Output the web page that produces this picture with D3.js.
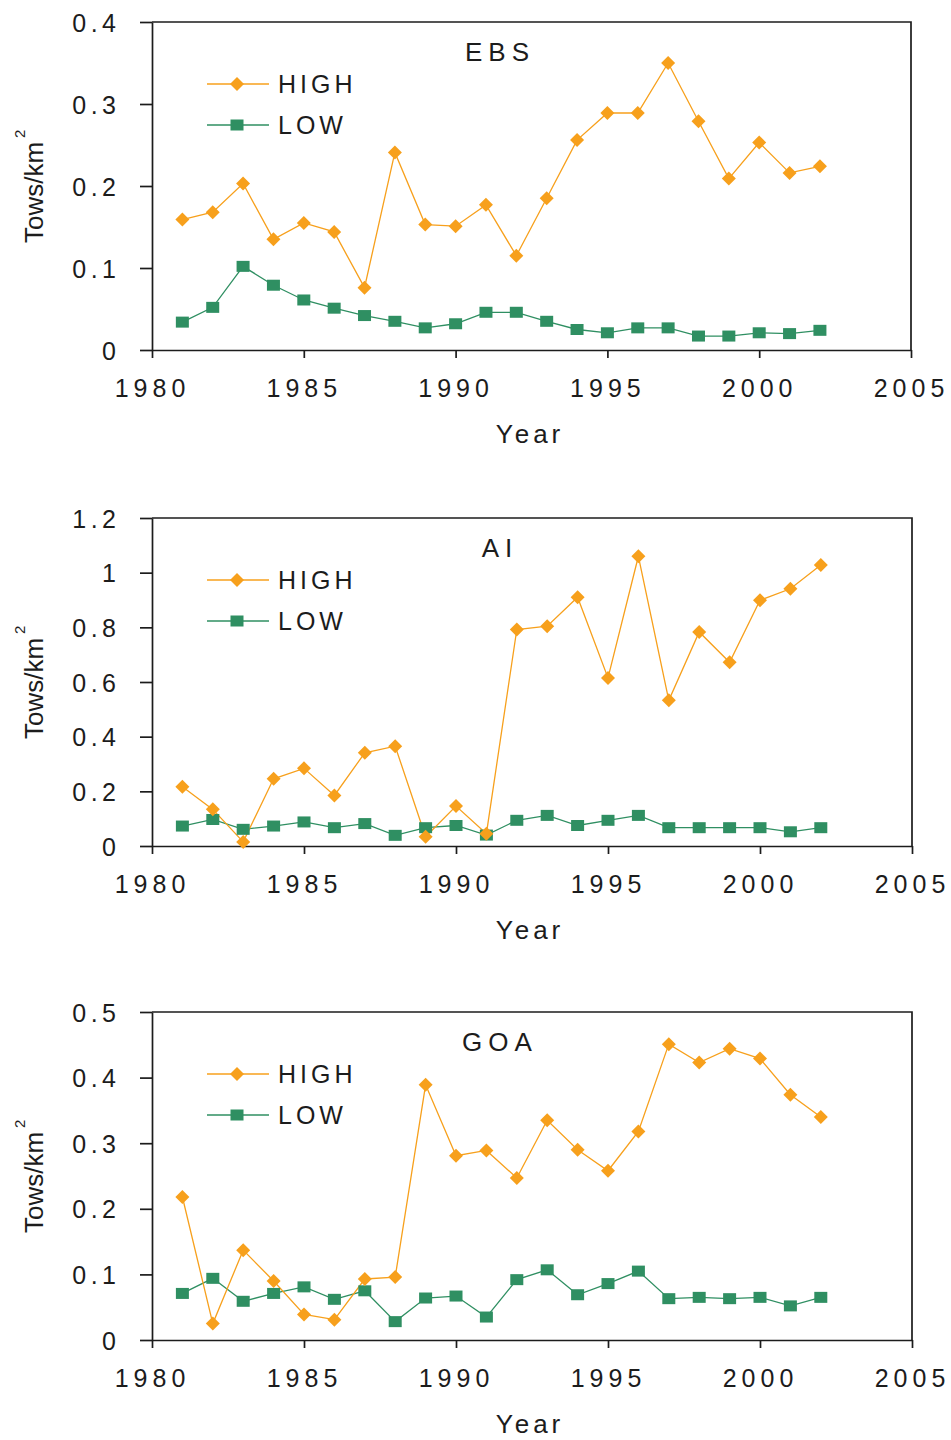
<!DOCTYPE html>
<html>
<head>
<meta charset="utf-8">
<script src="https://cdn.jsdelivr.net/npm/d3@7"></script>
<style>
  html, body { margin: 0; padding: 0; background: #fff; }
  svg { display: block; }
  text { font-family: "Liberation Sans", Arial, sans-serif; fill: #1c1c1c; }
</style>
</head>
<body>
<svg id="chart" width="951" height="1440"></svg>
<script>
// Survey years shared by all three regions
const years = [1981,1982,1983,1984,1985,1986,1987,1988,1989,1990,1991,
               1992,1993,1994,1995,1996,1997,1998,1999,2000,2001,2002];

// Tow density (tows per km²), eastern Bering Sea
const ebsHigh = [0.159,0.168,0.203,0.135,0.155,0.144,0.076,0.241,0.153,0.151,0.177,
                 0.115,0.185,0.256,0.289,0.289,0.350,0.279,0.209,0.253,0.216,0.224];
const ebsLow  = [0.034,0.052,0.102,0.079,0.061,0.051,0.042,0.035,0.027,0.032,0.046,
                 0.046,0.035,0.025,0.021,0.027,0.027,0.017,0.017,0.021,0.020,0.024];

// Aleutian Islands
const aiHigh = [0.217,0.134,0.015,0.246,0.284,0.185,0.341,0.365,0.034,0.146,0.045,
                0.792,0.804,0.910,0.615,1.060,0.533,0.783,0.672,0.899,0.941,1.028];
const aiLow  = [0.073,0.097,0.061,0.073,0.088,0.067,0.082,0.039,0.067,0.075,0.040,
                0.094,0.112,0.075,0.094,0.112,0.067,0.067,0.067,0.067,0.052,0.067];

// Gulf of Alaska
const goaHigh = [0.218,0.025,0.137,0.090,0.039,0.031,0.093,0.096,0.389,0.281,0.289,
                 0.247,0.335,0.290,0.258,0.318,0.451,0.423,0.444,0.429,0.374,0.340];
const goaLow  = [0.071,0.094,0.059,0.071,0.081,0.062,0.075,0.028,0.064,0.067,0.035,
                 0.092,0.107,0.069,0.086,0.105,0.063,0.065,0.063,0.065,0.052,0.065];

// Axis ticks
const xTicks = [1980,1985,1990,1995,2000,2005];
const ebsTicks = [0,0.1,0.2,0.3,0.4];
const aiTicks  = [0,0.2,0.4,0.6,0.8,1,1.2];
const goaTicks = [0,0.1,0.2,0.3,0.4,0.5];

const seriesNames = ["HIGH","LOW"];
const panels = [
  { title: "EBS", high: ebsHigh, low: ebsLow, ticks: ebsTicks, top: 22,   right: 911 },
  { title: "AI",  high: aiHigh,  low: aiLow,  ticks: aiTicks,  top: 518,  right: 912 },
  { title: "GOA", high: goaHigh, low: goaLow, ticks: goaTicks, top: 1012, right: 912 }
];

const ORANGE = "#F7A01C";
const GREEN  = "#2F8F62";
const AXIS   = "#1c1c1c";
const left = 152, plotH = 328;

const svg = d3.select("#chart");

function diamond(g, x, y) {
  g.append("path")
    .attr("d", `M${x},${y-7}L${x+7},${y}L${x},${y+7}L${x-7},${y}Z`)
    .attr("fill", ORANGE);
}
function square(g, x, y) {
  g.append("rect")
    .attr("x", x - 6.5).attr("y", y - 5.5)
    .attr("width", 13).attr("height", 11)
    .attr("fill", GREEN);
}

panels.forEach(p => {
  const top = p.top, bottom = top + plotH;
  const x = d3.scaleLinear().domain([1980, 2005]).range([left, p.right]);
  const y = d3.scaleLinear().domain([0, d3.max(p.ticks)]).range([bottom, top]);
  const g = svg.append("g");

  // Frame: top and right borders
  g.append("path")
    .attr("d", `M${left},${top}H${p.right}V${bottom}`)
    .attr("fill", "none").attr("stroke", AXIS).attr("stroke-width", 1.7);

  // Y axis
  const ya = g.append("g").attr("transform", `translate(${left},0)`)
    .call(d3.axisLeft(y).tickValues(p.ticks).tickSize(12).tickSizeOuter(0)
      .tickFormat(d => d3.format("~g")(d)));
  ya.select(".domain").attr("stroke", AXIS).attr("stroke-width", 1.7);
  ya.selectAll(".tick line").attr("stroke", AXIS).attr("stroke-width", 1.7);
  ya.selectAll(".tick text")
    .attr("x", -(left - 116) + 4.5).attr("dy", "0.36em")
    .style("font-size", "25px").style("letter-spacing", "4.5px")
    .attr("fill", "#1c1c1c");

  // X axis
  const xa = g.append("g").attr("transform", `translate(0,${bottom})`)
    .call(d3.axisBottom(x).tickValues(xTicks).tickSize(8).tickSizeOuter(0)
      .tickFormat(d3.format("d")));
  xa.select(".domain").attr("stroke", AXIS).attr("stroke-width", 1.7);
  xa.selectAll(".tick line").attr("stroke", AXIS).attr("stroke-width", 1.7);
  xa.selectAll(".tick text")
    .attr("y", 47).attr("dy", 0).attr("dx", 0)
    .style("font-size", "25px").style("letter-spacing", "5px")
    .attr("fill", "#1c1c1c");

  // Axis titles
  g.append("text")
    .attr("x", 530).attr("y", bottom + 93)
    .attr("text-anchor", "middle")
    .style("font-size", "26px").style("letter-spacing", "4px")
    .text("Year");

  const yl = g.append("text")
    .attr("transform", `translate(43,${top + 221}) rotate(-90)`)
    .style("font-size", "26px");
  yl.append("tspan").text("Tows/km");
  yl.append("tspan").attr("dx", 4).attr("dy", -18).style("font-size", "15px").text("2");

  // Region title
  g.append("text")
    .attr("x", 500).attr("y", top + 39)
    .attr("text-anchor", "middle")
    .style("font-size", "26px").style("letter-spacing", "6px")
    .text(p.title);

  // Series
  const line = d3.line().x((d, i) => x(years[i])).y(d => y(d));
  g.append("path").datum(p.low).attr("d", line)
    .attr("fill", "none").attr("stroke", GREEN).attr("stroke-width", 1.3);
  g.append("path").datum(p.high).attr("d", line)
    .attr("fill", "none").attr("stroke", ORANGE).attr("stroke-width", 1.3);
  p.low.forEach((v, i) => square(g, x(years[i]), y(v)));
  p.high.forEach((v, i) => diamond(g, x(years[i]), y(v)));

  // Legend
  const legY = [top + 62, top + 103];
  seriesNames.forEach((name, k) => {
    const ly = legY[k];
    g.append("line").attr("x1", 207).attr("x2", 269).attr("y1", ly).attr("y2", ly)
      .attr("stroke", k === 0 ? ORANGE : GREEN).attr("stroke-width", 1.5);
    if (k === 0) diamond(g, 237, ly); else square(g, 237, ly);
    g.append("text").attr("x", 278).attr("y", ly).attr("dy", "0.36em")
      .style("font-size", "25px").style("letter-spacing", "4px")
      .text(name);
  });
});
</script>
</body>
</html>
